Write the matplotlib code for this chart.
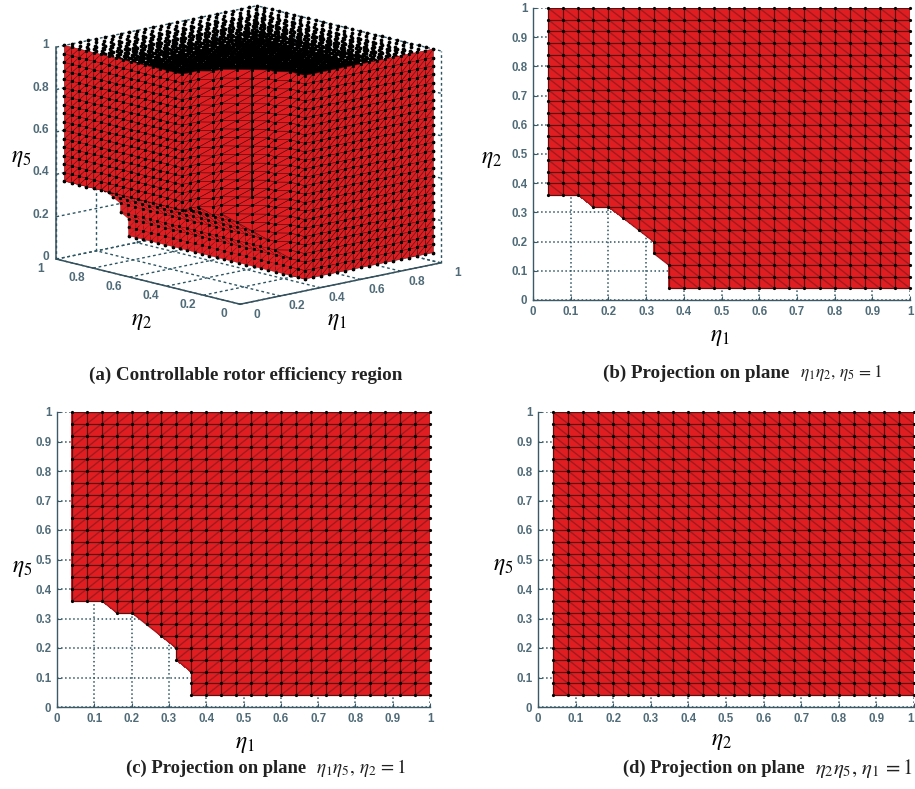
#!/usr/bin/env python3
import matplotlib
matplotlib.use('Agg')
import numpy as np
import matplotlib.pyplot as plt
from matplotlib.collections import LineCollection
from matplotlib.colors import ListedColormap
from matplotlib.tri import Triangulation
from mpl_toolkits.mplot3d import proj3d
from mpl_toolkits.mplot3d.art3d import Poly3DCollection

plt.rcParams['mathtext.fontset'] = 'stix'
W, H = 915, 789

# 网格和可控区域的下边界
grid_vals = [0.04, 0.08, 0.12, 0.16, 0.20, 0.24, 0.28, 0.32, 0.36, 0.40, 0.44, 0.48, 0.52,
             0.56, 0.60, 0.64, 0.68, 0.72, 0.76, 0.80, 0.84, 0.88, 0.92, 0.96, 1.00]
floor_vals = [0.36, 0.36, 0.36, 0.32, 0.32, 0.28, 0.24, 0.16, 0.04, 0.04, 0.04, 0.04, 0.04,
              0.04, 0.04, 0.04, 0.04, 0.04, 0.04, 0.04, 0.04, 0.04, 0.04, 0.04, 0.04]
floor_flat = [0.04] * 25
notch_e = [0.04, 0.08, 0.12, 0.16, 0.20, 0.24, 0.28, 0.32, 0.32, 0.36, 0.36, 0.36]
notch_h = [0.36, 0.36, 0.36, 0.32, 0.32, 0.28, 0.24, 0.20, 0.16, 0.12, 0.08, 0.04]

# 立面上那条明显的黑色竖线
fold_e = [0.28, 0.28]
fold_h = [0.24, 0.24]
fold_z = [0.40, 1.00]

ticks_2d = [0, 0.1, 0.2, 0.3, 0.4, 0.5, 0.6, 0.7, 0.8, 0.9, 1]
ticks_2d_labels = ['0', '0.1', '0.2', '0.3', '0.4', '0.5', '0.6', '0.7', '0.8', '0.9', '1']
ticks_3d = [0, 0.2, 0.4, 0.6, 0.8, 1]
ticks_3d_labels = ['0', '0.2', '0.4', '0.6', '0.8', '1']

RED = '#E01E22'
TICK = '#4F6B78'
AXC = '#3B5A66'
GRIDC = '#2C5563'


def px_axes(fig, x0, x1, y_top, y_bot, **kw):
    return fig.add_axes([x0 / W, 1 - y_bot / H, (x1 - x0) / W, (y_bot - y_top) / H], **kw)


def panel_2d(fig, rect, floors, diag):
    """投影平面上的一个子图, diag 是三角形对角线方向"""
    ax = px_axes(fig, *rect)
    floor = dict(zip(grid_vals, floors))
    n = len(grid_vals)
    xs, ys, idx = [], [], {}
    for i, e in enumerate(grid_vals):
        for j, h in enumerate(grid_vals):
            if h >= floor[e]:
                idx[(i, j)] = len(xs)
                xs.append(e)
                ys.append(h)
    tris = []
    for i in range(n - 1):
        for j in range(n - 1):
            a, b, c, d = (i, j), (i + 1, j), (i + 1, j + 1), (i, j + 1)
            if diag == '/':
                cands = [(a, b, c), (a, c, d), (a, b, d), (b, c, d)]
            else:
                cands = [(a, b, d), (b, c, d), (a, b, c), (a, c, d)]
            good = [t for t in cands[:2] if all(p in idx for p in t)]
            if len(good) < 2:
                good = [t for t in cands if all(p in idx for p in t)][:1] if not good else good
            for t in good:
                tris.append([idx[p] for p in t])
    xs = np.array(xs)
    ys = np.array(ys)
    tri = Triangulation(xs, ys, tris)
    ax.tripcolor(tri, np.zeros(len(tris)), cmap=ListedColormap([RED]), zorder=2)
    seg_d, seg_s = [], []
    for p, q in tri.edges:
        s = [(xs[p], ys[p]), (xs[q], ys[q])]
        if abs(xs[p] - xs[q]) < 1e-6 or abs(ys[p] - ys[q]) < 1e-6:
            seg_s.append(s)
        else:
            seg_d.append(s)
    ax.add_collection(LineCollection(seg_d, colors='#A01A1E', linewidths=1.0, zorder=3))
    ax.add_collection(LineCollection(seg_s, colors='#5A1012', linewidths=0.9, zorder=4))
    ax.plot(xs, ys, 'o', color='black', ms=2.3, mew=0, zorder=5, clip_on=False)
    ax.set_xlim(0, 1)
    ax.set_ylim(0, 1)
    ax.set_xticks(ticks_2d)
    ax.set_xticklabels(ticks_2d_labels)
    ax.set_yticks(ticks_2d)
    ax.set_yticklabels(ticks_2d_labels)
    ax.tick_params(direction='in', length=3, width=0.8, color=AXC, labelcolor=TICK,
                   labelsize=8.3, pad=4)
    for lab in ax.get_xticklabels() + ax.get_yticklabels():
        lab.set_family('Liberation Sans')
        lab.set_fontweight('bold')
    ax.grid(True, ls=':', color=GRIDC, lw=1.1)
    ax.set_axisbelow(True)
    ax.spines['top'].set_visible(False)
    ax.spines['right'].set_visible(False)
    for s in ['left', 'bottom']:
        ax.spines[s].set_color(AXC)
        ax.spines[s].set_linewidth(1.0)
    ax.patch.set_alpha(0)
    return ax


def mesh_strip(path, levels, ok, point):
    """沿折线 path 拉伸成三角网, ok 判断顶点是否在区域内"""
    tris = []
    for p, q in zip(path[:-1], path[1:]):
        for l0, l1 in zip(levels[:-1], levels[1:]):
            corners = [(p, l0), (q, l0), (q, l1), (p, l1)]
            flags = [ok(*c) for c in corners]
            if all(flags):
                tris.append([point(*corners[0]), point(*corners[1]), point(*corners[2])])
                tris.append([point(*corners[0]), point(*corners[2]), point(*corners[3])])
            elif sum(flags) == 3:
                tris.append([point(*c) for c, f in zip(corners, flags) if f])
    return tris


def panel_3d(fig):
    size = 520
    cx, cy = 241.5, 162
    ax = fig.add_axes([(cx - size / 2) / W, 1 - (cy + size / 2) / H, size / W, size / H],
                      projection='3d', proj_type='ortho', computed_zorder=False)
    ax.view_init(elev=13, azim=-132.5)
    ax.set_box_aspect((1, 1, 0.8), zoom=0.825)
    ax.set_xlim(0, 1, view_margin=0)
    ax.set_ylim(0, 1, view_margin=0)
    ax.set_zlim(0, 1, view_margin=0)
    ax.set_axis_off()

    # 背后的虚线网格
    grid_kw = dict(color=GRIDC, lw=1.0, ls=(0, (2, 2)), zorder=1)
    for t in ticks_3d:
        ax.plot([t, t], [0, 1], [0, 0], **grid_kw)
        ax.plot([0, 1], [t, t], [0, 0], **grid_kw)
        ax.plot([t, t], [1, 1], [0, 1], **grid_kw)
        ax.plot([1, 1], [t, t], [0, 1], **grid_kw)
        ax.plot([0, 1], [1, 1], [t, t], **grid_kw)
        ax.plot([1, 1], [0, 1], [t, t], **grid_kw)
    line_kw = dict(color='#33505C', lw=1.1, zorder=1.5)
    ax.plot([0, 0], [1, 1], [0, 1], **line_kw)
    ax.plot([0, 0], [0, 1], [0, 0], **line_kw)
    ax.plot([0, 1], [0, 0], [0, 0], **line_kw)

    # 体内所有格点
    floor = dict(zip(grid_vals, floor_vals))
    vx, vy, vz = [], [], []
    for e in grid_vals:
        for h in grid_vals:
            for z in grid_vals:
                if h >= floor[e] and z >= floor[e]:
                    vx.append(e)
                    vy.append(h)
                    vz.append(z)
    ax.plot(vx, vy, vz, 'o', color='black', ms=2.7, mew=0, zorder=2)

    path = [(0.04, h) for h in grid_vals[::-1] if h > 0.36] + list(zip(notch_e, notch_h))
    path += [(e, 0.04) for e in grid_vals if e > 0.36]
    sheet_path = list(zip(notch_e, notch_h))

    # 下面的台阶面 (eta5 = 下边界)
    sheet = mesh_strip(sheet_path, grid_vals, lambda p, l: l >= floor[p[0]] - 1e-9,
                       lambda p, l: (p[0], l, p[1]))
    ax.add_collection3d(Poly3DCollection(sheet, facecolors=RED, edgecolors='#7A1416',
                                         linewidths=0.3, zorder=3))
    pts = np.array([v for t in sheet for v in t])
    ax.plot(pts[:, 0], pts[:, 1], pts[:, 2], 'o', color='black', ms=1.7, mew=0, zorder=4)

    # 前面的两个立面
    wall = mesh_strip(path, grid_vals, lambda p, l: l >= floor[p[0]] - 1e-9,
                      lambda p, l: (p[0], p[1], l))
    ax.add_collection3d(Poly3DCollection(wall, facecolors=RED, edgecolors='#5A1012',
                                         linewidths=0.4, zorder=5))
    pts = np.array([v for t in wall for v in t])
    ax.plot(pts[:, 0], pts[:, 1], pts[:, 2], 'o', color='black', ms=2.0, mew=0, zorder=6)
    ax.plot(fold_e, fold_h, fold_z, color='#140404', lw=1.3, zorder=6)

    # 刻度标签
    txt = dict(color=TICK, fontsize=8.6, family='Liberation Sans', fontweight='bold',
               annotation_clip=False, zorder=7)
    M = ax.get_proj()

    def note(x, y, z, s, ha):
        x2, y2, _ = proj3d.proj_transform(x, y, z, M)
        ax.annotate(s, (x2, y2), ha=ha, va='center', **txt)

    for t, s in zip(ticks_3d, ticks_3d_labels):
        note(0, 1.04, t, s, 'right')
        note(-0.08, t, -0.03, s, 'center')
        note(t, -0.09, -0.03, s, 'center')
    ax.set_zorder(0)
    return ax


def label(fig, x, y, s, size=17):
    fig.text(x / W, 1 - y / H, s, fontsize=size, ha='center', va='center')


def caption(fig, x, y, s, size=13.7, mx=None, ms=None, msize=13):
    fig.text(x / W, 1 - y / H, s, fontsize=size, family='Liberation Serif', fontweight='bold',
             color='#222222', ha='left', va='center')
    if ms is not None:
        fig.text(mx / W, 1 - y / H, ms, fontsize=msize, color='#222222', ha='left', va='center')


fig = plt.figure(figsize=(W / 100, H / 100), dpi=100)

panel_3d(fig)
panel_2d(fig, (533, 910, 8, 300), floor_vals, '\\')
panel_2d(fig, (57, 430, 412, 707), floor_vals, '/')
ax_d = panel_2d(fig, (538, 914, 412, 707), floor_flat, '\\')
ax_d.get_xticklabels()[-1].set_ha('right')  # 右边界太近

label(fig, 21, 157, r'$\eta_5$')
label(fig, 142, 320, r'$\eta_2$')
label(fig, 337, 320, r'$\eta_1$')
label(fig, 492, 158, r'$\eta_2$')
label(fig, 720, 336, r'$\eta_1$')
label(fig, 22, 567, r'$\eta_5$')
label(fig, 245, 743, r'$\eta_1$')
label(fig, 503, 565, r'$\eta_5$')
label(fig, 722, 740, r'$\eta_2$')

caption(fig, 89, 375, '(a) Controllable rotor efficiency region')
caption(fig, 603, 373, '(b) Projection on plane', 13.7, 800, r'$\eta_1\eta_2,\,\eta_5\,=1$', 12.5)
caption(fig, 126, 768, '(c) Projection on plane', 13.4, 316, r'$\eta_1\eta_5,\,\eta_2\,=1$', 13.8)
caption(fig, 623, 768, '(d) Projection on plane', 13.3, 815, r'$\eta_2\eta_5,\,\eta_1\,=1$', 15)

fig.savefig('out.png', dpi=100)
